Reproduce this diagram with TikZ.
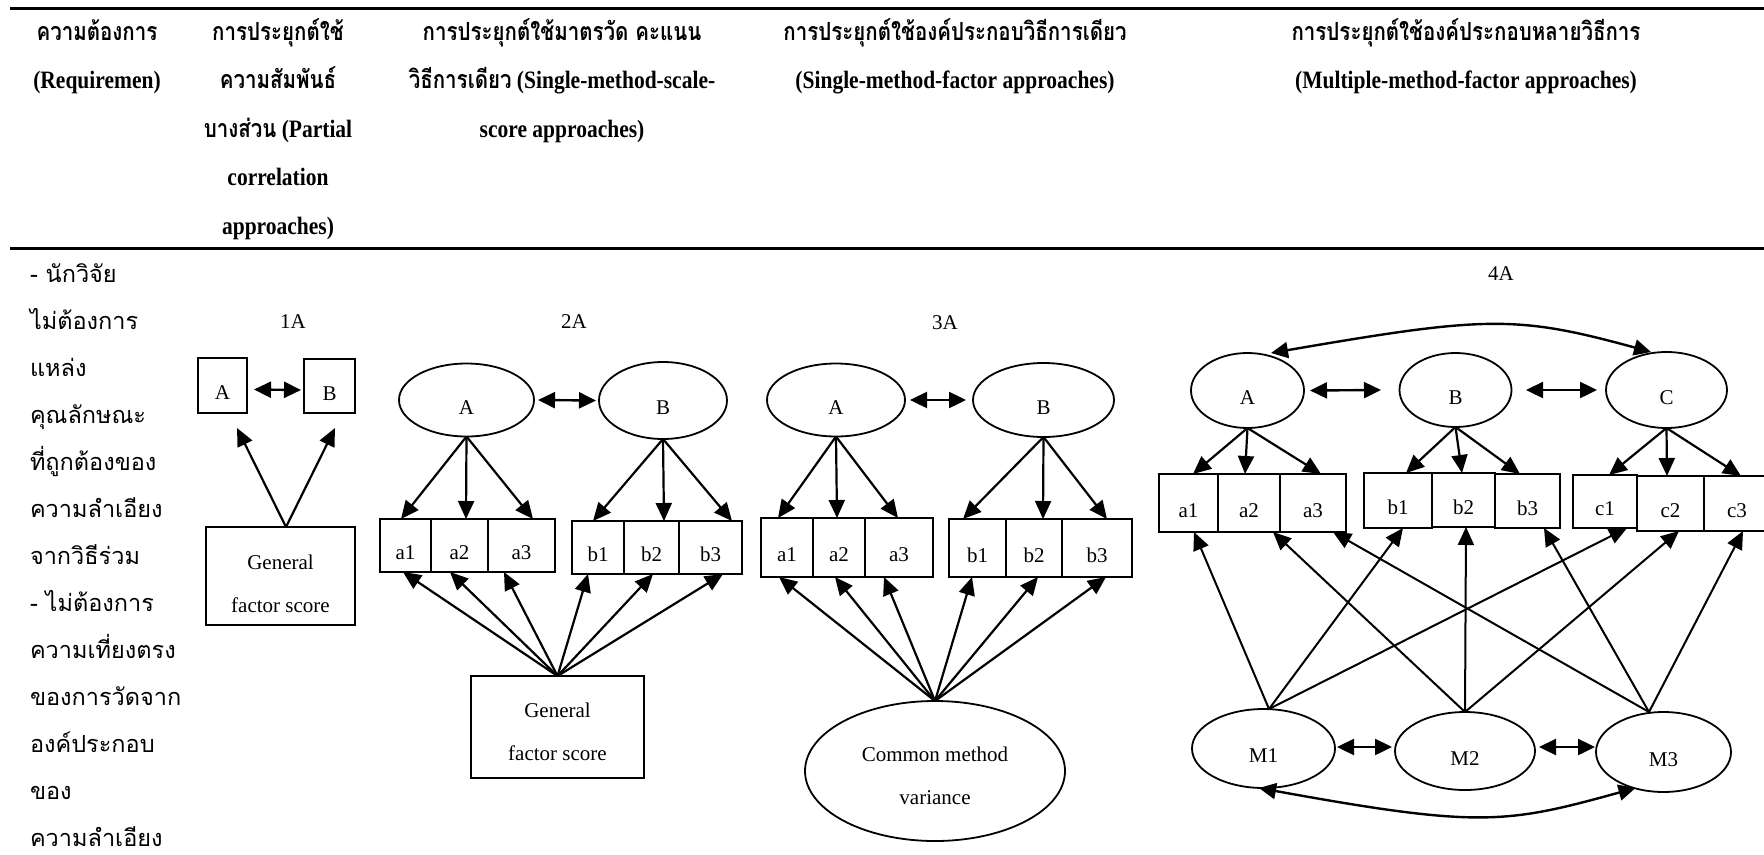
\documentclass[tikz,border=0pt]{standalone}
\usepackage{fontspec}
\setmainfont{Liberation Serif}
\newfontfamily\thaibody[Script=Thai]{Loma}
\newfontfamily\thaihead[Script=Thai,FakeStretch=0.82]{Loma}
\newfontfamily\latinhead[FakeStretch=0.86]{Liberation Serif}
\usetikzlibrary{arrows.meta,shapes.geometric}

\tikzset{
  every node/.style={inner sep=0pt, outer sep=0pt},
  hd/.style={anchor=base, font=\fontsize{25}{30}\selectfont\latinhead\bfseries},
  body/.style={anchor=base west, font=\fontsize{23.5}{28}\selectfont\thaibody},
  panel title/.style={font=\fontsize{21}{25}\selectfont},
  lbl/.style={font=\fontsize{21}{25}\selectfont, text height=28pt, text depth=0pt},
  obs/.style={draw, rectangle, line width=1.8pt, lbl},
  lat/.style={draw, ellipse, line width=1.8pt, lbl},
  twoline/.style={align=center, font=\fontsize{21}{43}\selectfont},
  arrw/.style={-{Triangle[length=18pt,width=16pt]}, line width=2.2pt},
  thinarrw/.style={-{Triangle[length=18pt,width=16pt]}, line width=2pt},
  dblarrw/.style={{Triangle[length=17pt,width=16pt]}-{Triangle[length=17pt,width=16pt]}, line width=2.4pt},
}

\begin{document}
\begin{tikzpicture}[x=1pt,y=-1pt]
\useasboundingbox (0,0) rectangle (1764,854);

% table rules
\draw[line width=3pt] (10,8) -- (1764,8);
\draw[line width=3pt] (10,248) -- (1764,248);

% column headings
\node[hd] (h11) at (97,40)   {{\thaihead ความต้องการ}};
\node[hd] (h12) at (97,88.5) {(Requiremen)};

\node[hd] (h21) at (278,40)    {{\thaihead การประยุกต์ใช้}};
\node[hd] (h22) at (278,88.5)  {{\thaihead ความสัมพันธ์}};
\node[hd] (h23) at (278,137)   {{\thaihead บางส่วน} (Partial};
\node[hd] (h24) at (278,185.5) {correlation};
\node[hd] (h25) at (278,234)   {approaches)};

\node[hd] (h31) at (562,40)   {{\thaihead การประยุกต์ใช้มาตรวัด คะแนน}};
\node[hd] (h32) at (562,88.5) {{\thaihead วิธีการเดียว} (Single-method-scale-};
\node[hd] (h33) at (562,137)  {score approaches)};

\node[hd] (h41) at (955,40)   {{\thaihead การประยุกต์ใช้องค์ประกอบวิธีการเดียว}};
\node[hd] (h42) at (955,88.5) {(Single-method-factor approaches)};

\node[hd] (h51) at (1466,40)   {{\thaihead การประยุกต์ใช้องค์ประกอบหลายวิธีการ}};
\node[hd] (h52) at (1466,88.5) {(Multiple-method-factor approaches)};

% requirement column
\node[body] (r01) at (30,282.5) {- นักวิจัย};
\node[body] (r02) at (30,329.5) {ไม่ต้องการ};
\node[body] (r03) at (30,376.4) {แหล่ง};
\node[body] (r04) at (30,423.4) {คุณลักษณะ};
\node[body] (r05) at (30,470.3) {ที่ถูกต้องของ};
\node[body] (r06) at (30,517.3) {ความลำเอียง};
\node[body] (r07) at (30,564.3) {จากวิธีร่วม};
\node[body] (r08) at (30,611.2) {- ไม่ต้องการ};
\node[body] (r09) at (30,658.2) {ความเที่ยงตรง};
\node[body] (r10) at (30,705.1) {ของการวัดจาก};
\node[body] (r11) at (30,752.1) {องค์ประกอบ};
\node[body] (r12) at (30,799.1) {ของ};
\node[body] (r13) at (30,846)   {ความลำเอียง};

% ---------------- 1A: partial correlation ----------------
\node[panel title] (t1) at (293,322) {1A};
\node[obs, minimum width=49pt, minimum height=55pt] (A1) at (222.5,385.5) {A};
\node[obs, minimum width=51pt, minimum height=54pt] (B1) at (329.5,386) {B};
\draw[dblarrw] ([xshift=7pt,yshift=-4pt]A1.east) -- ([xshift=-3pt,yshift=-4pt]B1.west);
\node[obs, minimum width=149pt, minimum height=98pt] (G1) at (280.5,576) {};
\node[twoline] (G1t) at ([yshift=-7.5pt]G1.center) {General\\factor score};
\draw[arrw] ([xshift=5.5pt]G1.north) -- ([xshift=14.5pt,yshift=-15pt]A1.south);
\draw[arrw] ([xshift=5.5pt]G1.north) -- ([xshift=5.5pt,yshift=-15pt]B1.south);

% ---------------- 2A: single-method-scale-score ----------------
\node[panel title] (t2) at (574,322) {2A};
\node[lat, minimum width=135pt, minimum height=73pt] (A2) at (466.5,400) {A};
\node[lat, minimum width=128pt, minimum height=77pt] (B2) at (663,400.5) {B};
\draw[dblarrw] ([xshift=4pt]A2.east) -- ([xshift=-3pt]B2.west);
\node[obs, minimum width=51pt, minimum height=53pt] (a21) at (405.5,545.5) {a1};
\node[obs, minimum width=57pt, minimum height=53pt] (a22) at (459.5,545.5) {a2};
\node[obs, minimum width=67pt, minimum height=53pt] (a23) at (521.5,545.5) {a3};
\node[obs, minimum width=52pt, minimum height=53pt] (b21) at (598,547.5) {b1};
\node[obs, minimum width=55pt, minimum height=53pt] (b22) at (651.5,547.5) {b2};
\node[obs, minimum width=63pt, minimum height=53pt] (b23) at (710.5,547.5) {b3};
\draw[arrw] (A2.south) -- ([xshift=-4.5pt]a21.north);
\draw[arrw] (A2.south) -- ([xshift=6.5pt]a22.north);
\draw[arrw] (A2.south) -- ([xshift=11.5pt]a23.north);
\draw[arrw] (B2.south) -- ([xshift=-5pt]b21.north);
\draw[arrw] (B2.south) -- ([xshift=12.5pt]b22.north);
\draw[arrw] (B2.south) -- ([xshift=21.5pt]b23.north);
\node[obs, minimum width=173pt, minimum height=102pt] (G2) at (557.5,727) {};
\node[twoline] (G2t) at ([yshift=-5pt]G2.center) {General\\factor score};
\draw[arrw] (G2.north) -- ([xshift=-2.5pt]a21.south);
\draw[arrw] (G2.north) -- ([xshift=-9.5pt]a22.south);
\draw[arrw] (G2.north) -- ([xshift=-17.5pt]a23.south);
\draw[arrw] (G2.north) -- ([xshift=-10pt]b21.south);
\draw[arrw] (G2.north) -- ([xshift=1.5pt]b22.south);
\draw[arrw] (G2.north) -- ([xshift=12.5pt]b23.south);

% ---------------- 3A: single-method-factor ----------------
\node[panel title] (t3) at (945,323) {3A};
\node[lat, minimum width=138pt, minimum height=73pt] (A3) at (836,400) {A};
\node[lat, minimum width=141pt, minimum height=74pt] (B3) at (1043.5,400) {B};
\draw[dblarrw] ([xshift=5pt]A3.east) -- ([xshift=-7pt]B3.west);
\node[obs, minimum width=52pt, minimum height=59pt] (a31) at (787,547.5) {a1};
\node[obs, minimum width=52pt, minimum height=59pt] (a32) at (839,547.5) {a2};
\node[obs, minimum width=68pt, minimum height=59pt] (a33) at (899,547.5) {a3};
\node[obs, minimum width=57pt, minimum height=58pt] (b31) at (977.5,548) {b1};
\node[obs, minimum width=56pt, minimum height=58pt] (b32) at (1034,548) {b2};
\node[obs, minimum width=70pt, minimum height=58pt] (b33) at (1097,548) {b3};
\draw[arrw] (A3.south) -- ([xshift=-9pt]a31.north);
\draw[arrw] (A3.south) -- ([xshift=-2pt]a32.north);
\draw[arrw] (A3.south) -- ([xshift=-1pt]a33.north);
\draw[arrw] (B3.south) -- ([xshift=-14.5pt]b31.north);
\draw[arrw] (B3.south) -- ([xshift=9pt]b32.north);
\draw[arrw] (B3.south) -- ([xshift=10pt]b33.north);
\node[lat, minimum width=260pt, minimum height=140pt] (CMV) at (935,771) {};
\node[twoline] (CMVt) at ([yshift=-4.5pt]CMV.center) {Common method\\variance};
\draw[arrw] (CMV.north) -- ([xshift=-8pt]a31.south);
\draw[arrw] (CMV.north) -- ([xshift=-4pt]a32.south);
\draw[arrw] (CMV.north) -- ([xshift=-15pt]a33.south);
\draw[arrw] (CMV.north) -- ([xshift=-5.5pt]b31.south);
\draw[arrw] (CMV.north) -- ([xshift=4pt]b32.south);
\draw[arrw] (CMV.north) -- ([xshift=9pt]b33.south);

% ---------------- 4A: multiple-method-factor ----------------
\node[panel title] (t4) at (1501,274) {4A};
\node[lat, minimum width=113pt, minimum height=75pt] (A4) at (1247.5,390.5) {A};
\node[lat, minimum width=112pt, minimum height=74pt] (B4) at (1455.5,390) {B};
\node[lat, minimum width=121pt, minimum height=76pt] (C4) at (1666.5,390) {C};
\draw[dblarrw] ([xshift=6pt]A4.east) -- ([xshift=-18.5pt]B4.west);
\draw[dblarrw] ([xshift=14.5pt]B4.east) -- ([xshift=-9pt]C4.west);
\draw[dblarrw] ([xshift=23.5pt]A4.north) .. controls +(215,-37) and +(-135,-37) .. ([xshift=-15.5pt]C4.north);

\node[obs, minimum width=59pt, minimum height=58pt] (a41) at (1188.5,503) {a1};
\node[obs, minimum width=62pt, minimum height=58pt] (a42) at (1249,503) {a2};
\node[obs, minimum width=66pt, minimum height=58pt] (a43) at (1313,503) {a3};
\node[obs, minimum width=68pt, minimum height=55pt] (b41) at (1398,500.5) {b1};
\node[obs, minimum width=63pt, minimum height=54pt] (b42) at (1463.5,500) {b2};
\node[obs, minimum width=65pt, minimum height=54pt] (b43) at (1527.5,501) {b3};
\node[obs, minimum width=64pt, minimum height=53pt] (c41) at (1605,501.5) {c1};
\node[obs, minimum width=67pt, minimum height=55pt] (c42) at (1670.5,503.5) {c2};
\node[obs, minimum width=66pt, minimum height=55pt] (c43) at (1737,503.5) {c3};

\draw[arrw] (A4.south) -- ([xshift=4.5pt]a41.north);
\draw[arrw] (A4.south) -- ([xshift=-4pt]a42.north);
\draw[arrw] (A4.south) -- ([xshift=8pt]a43.north);
\draw[arrw] (B4.south) -- ([xshift=8pt]b41.north);
\draw[arrw] (B4.south) -- ([xshift=-1.5pt]b42.north);
\draw[arrw] (B4.south) -- ([xshift=-7.5pt]b43.north);
\draw[arrw] (C4.south) -- ([xshift=4pt]c41.north);
\draw[arrw] (C4.south) -- ([xshift=-3.5pt]c42.north);
\draw[arrw] (C4.south) -- ([xshift=4pt]c43.north);

\node[lat, minimum width=143pt, minimum height=79pt] (M1) at (1263.5,748.5) {M1};
\node[lat, minimum width=140pt, minimum height=78pt] (M2) at (1465,751) {M2};
\node[lat, minimum width=135pt, minimum height=80pt] (M3) at (1663.5,752) {M3};
\draw[dblarrw] ([xshift=2pt,yshift=1.5pt]M1.east) -- ([xshift=-3pt,yshift=4pt]M2.west);
\draw[dblarrw] ([xshift=4pt,yshift=4pt]M2.east) -- ([xshift=-1pt,yshift=5pt]M3.west);
\draw[dblarrw] ([xshift=-4.5pt]M1.south) .. controls +(220,40) and +(-130,36) .. ([xshift=-28pt,yshift=4pt]M3.south);

\draw[thinarrw] ([xshift=5.5pt]M1.north) -- ([xshift=5.5pt]a41.south);
\draw[thinarrw] ([xshift=5.5pt]M1.north) -- ([xshift=5pt]b41.south);
\draw[thinarrw] ([xshift=5.5pt]M1.north) -- ([xshift=22pt]c41.south);
\draw[thinarrw] (M2.north) -- ([xshift=24pt]a42.south);
\draw[thinarrw] (M2.north) -- ([xshift=2.5pt]b42.south);
\draw[thinarrw] (M2.north) -- ([xshift=8.5pt]c42.south);
\draw[thinarrw] ([xshift=-14.5pt]M3.north) -- ([xshift=20pt]a43.south);
\draw[thinarrw] ([xshift=-14.5pt]M3.north) -- ([xshift=16.5pt]b43.south);
\draw[thinarrw] ([xshift=-14.5pt]M3.north) -- ([xshift=6pt]c43.south);
\end{tikzpicture}
\end{document}
